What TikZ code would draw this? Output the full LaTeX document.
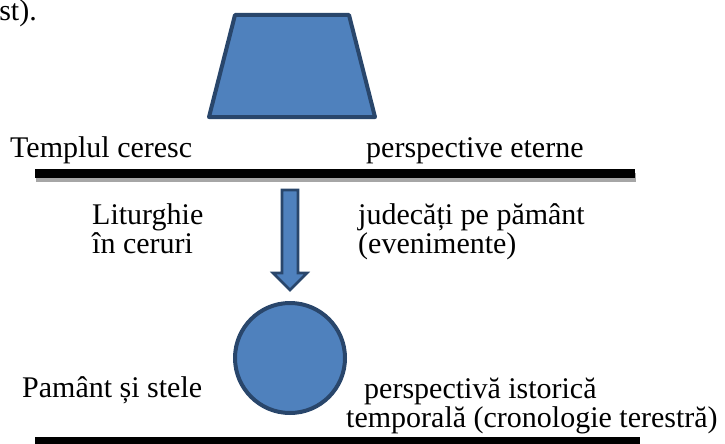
\documentclass[tikz,border=0pt]{standalone}
\usepackage{fontspec}
\setmainfont{Liberation Serif}
\usepackage{tikz}

\definecolor{shapeblue}{HTML}{4F81BD}
\definecolor{shapeedge}{HTML}{29466B}
\definecolor{shadowgray}{HTML}{A6A6A6}

\tikzset{
 plate/.style={fill=shapeblue,draw=shapeedge,line width=4pt,line join=round},
 lbl/.style={anchor=base west,inner sep=0pt,align=left,font=\fontsize{30}{27}\selectfont},
 horizon/.style={fill=black,draw=none}
}

\begin{document}
\begin{tikzpicture}[x=1pt,y=-1pt]
 \useasboundingbox (0,0) rectangle (725,444);

 % cut-off end of a sentence above
 \node[lbl,anchor=base east] (cut) at (37,21) {st).};

 % heaven
 \draw[plate] (235,15) -- (349,15) -- (375,117) -- (209,117) -- cycle;
 \node[lbl] (temple) at (10,157) {Templul ceresc};
 \node[lbl] (eternal) at (366,157) {perspective eterne};
 \fill[shadowgray] (36,173) rectangle (636,182);
 \fill[horizon] (35,169) rectangle (635,178);

 % between (base = last line)
 \node[lbl] (lit) at (92,253) {Liturghie\\în ceruri};
 \node[lbl] (jud) at (358,253) {judecăți pe pământ\\(evenimente)};
 \draw[plate,line width=2.6pt,line join=miter]
 (282,190) -- (298,190) -- (298,273) -- (307,273) -- (290,290)
 -- (273,273) -- (282,273) -- cycle;

 % earth
 \node[plate,circle,minimum size=110pt,inner sep=0pt] (earth) at (290,358) {};
 \node[lbl] (stars) at (22,397) {Pamânt și stele};
 \node[lbl] (hist) at (346,427) {\hspace*{18pt}perspectivă istorică\\temporală (cronologie terestră)};
 \fill[horizon] (35,437) rectangle (640,446);
\end{tikzpicture}
\end{document}
